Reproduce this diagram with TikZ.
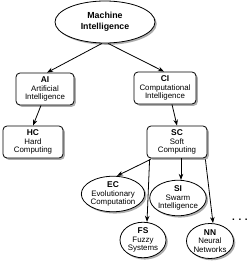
\documentclass[tikz,border=0pt]{standalone}
\usepackage{fontspec}
\setmainfont{Liberation Sans}
\usetikzlibrary{shapes.geometric,shadows,arrows.meta}
\begin{document}
\begin{tikzpicture}[x=1pt,y=-1pt,
  shade/.style={drop shadow={shadow xshift=1.8pt,shadow yshift=-1.8pt,fill=black!40,opacity=0.8}},
  box/.style={draw,rectangle,rounded corners=4pt,fill=white,line width=0.8pt,shade,
    inner sep=0pt,align=center,font=\fontsize{7.9}{8.8}\selectfont,minimum height=32pt},
  oval/.style={draw,ellipse,fill=white,line width=0.8pt,shade,
    inner sep=0pt,align=center,font=\fontsize{7.9}{8.8}\selectfont},
  arr/.style={-{Stealth[length=6pt,width=4.5pt]},line width=0.8pt}]
\useasboundingbox (0,0) rectangle (250,265);
\node[oval,minimum width=100pt,minimum height=42pt,font=\fontsize{8.8}{11}\selectfont\bfseries] (mi) at (105,22) {Machine\\Intelligence};
\node[box,minimum width=58pt] (ai) at (45,89) {{\bfseries\fontsize{8.4}{8.8}\selectfont AI}\\Artificial\\Intelligence};
\node[box,minimum width=62pt] (ci) at (165,88) {{\bfseries\fontsize{8.4}{8.8}\selectfont CI}\\Computational\\Intelligence};
\node[box,minimum width=60pt] (hc) at (33,142) {{\bfseries\fontsize{8.4}{8.8}\selectfont HC}\\Hard\\Computing};
\node[box,minimum width=60pt] (sc) at (177,142) {{\bfseries\fontsize{8.4}{8.8}\selectfont SC}\\Soft\\Computing};
\node[oval,minimum width=55pt,minimum height=32pt] (ec) at (113,194) {{\bfseries\fontsize{8.4}{8.8}\selectfont EC}\\Evolutionary\\Computation};
\node[oval,minimum width=53pt,minimum height=34pt] (si) at (178,198) {{\bfseries\fontsize{8.4}{8.8}\selectfont SI}\\Swarm\\Intelligence};
\node[oval,minimum width=46pt,minimum height=34pt] (fs) at (143,240) {{\bfseries\fontsize{8.4}{8.8}\selectfont FS}\\Fuzzy\\Systems};
\node[oval,minimum width=47pt,minimum height=35pt] (nn) at (210,241) {{\bfseries\fontsize{8.4}{8.8}\selectfont NN}\\Neural\\Networks};
\node[font=\fontsize{10}{10}\selectfont\bfseries,inner sep=0pt] (dots) at (240,219.5) {.\hspace{3.6pt}.\hspace{3.6pt}.};
\draw[arr] ([xshift=-3pt]mi.south) -- ([xshift=2pt]ai.north);
\draw[arr] ([xshift=3pt]mi.south) -- ([xshift=-1pt]ci.north);
\draw[arr] ([xshift=-4pt]ai.south) -- (hc.north);
\draw[arr] ([xshift=7pt]ci.south) -- (sc.north);
\draw[arr] ([xshift=4pt,yshift=-1pt]sc.south west) -- ([xshift=4pt]ec.north);
\draw[arr] ([xshift=3pt,yshift=-1pt]sc.south west) -- ([xshift=4pt]fs.north);
\draw[arr] ([xshift=4pt]sc.south) -- ([xshift=3pt]si.north);
\draw[arr] ([xshift=-2pt,yshift=-1pt]sc.south east) -- ([xshift=3pt]nn.north);
\end{tikzpicture}
\end{document}
